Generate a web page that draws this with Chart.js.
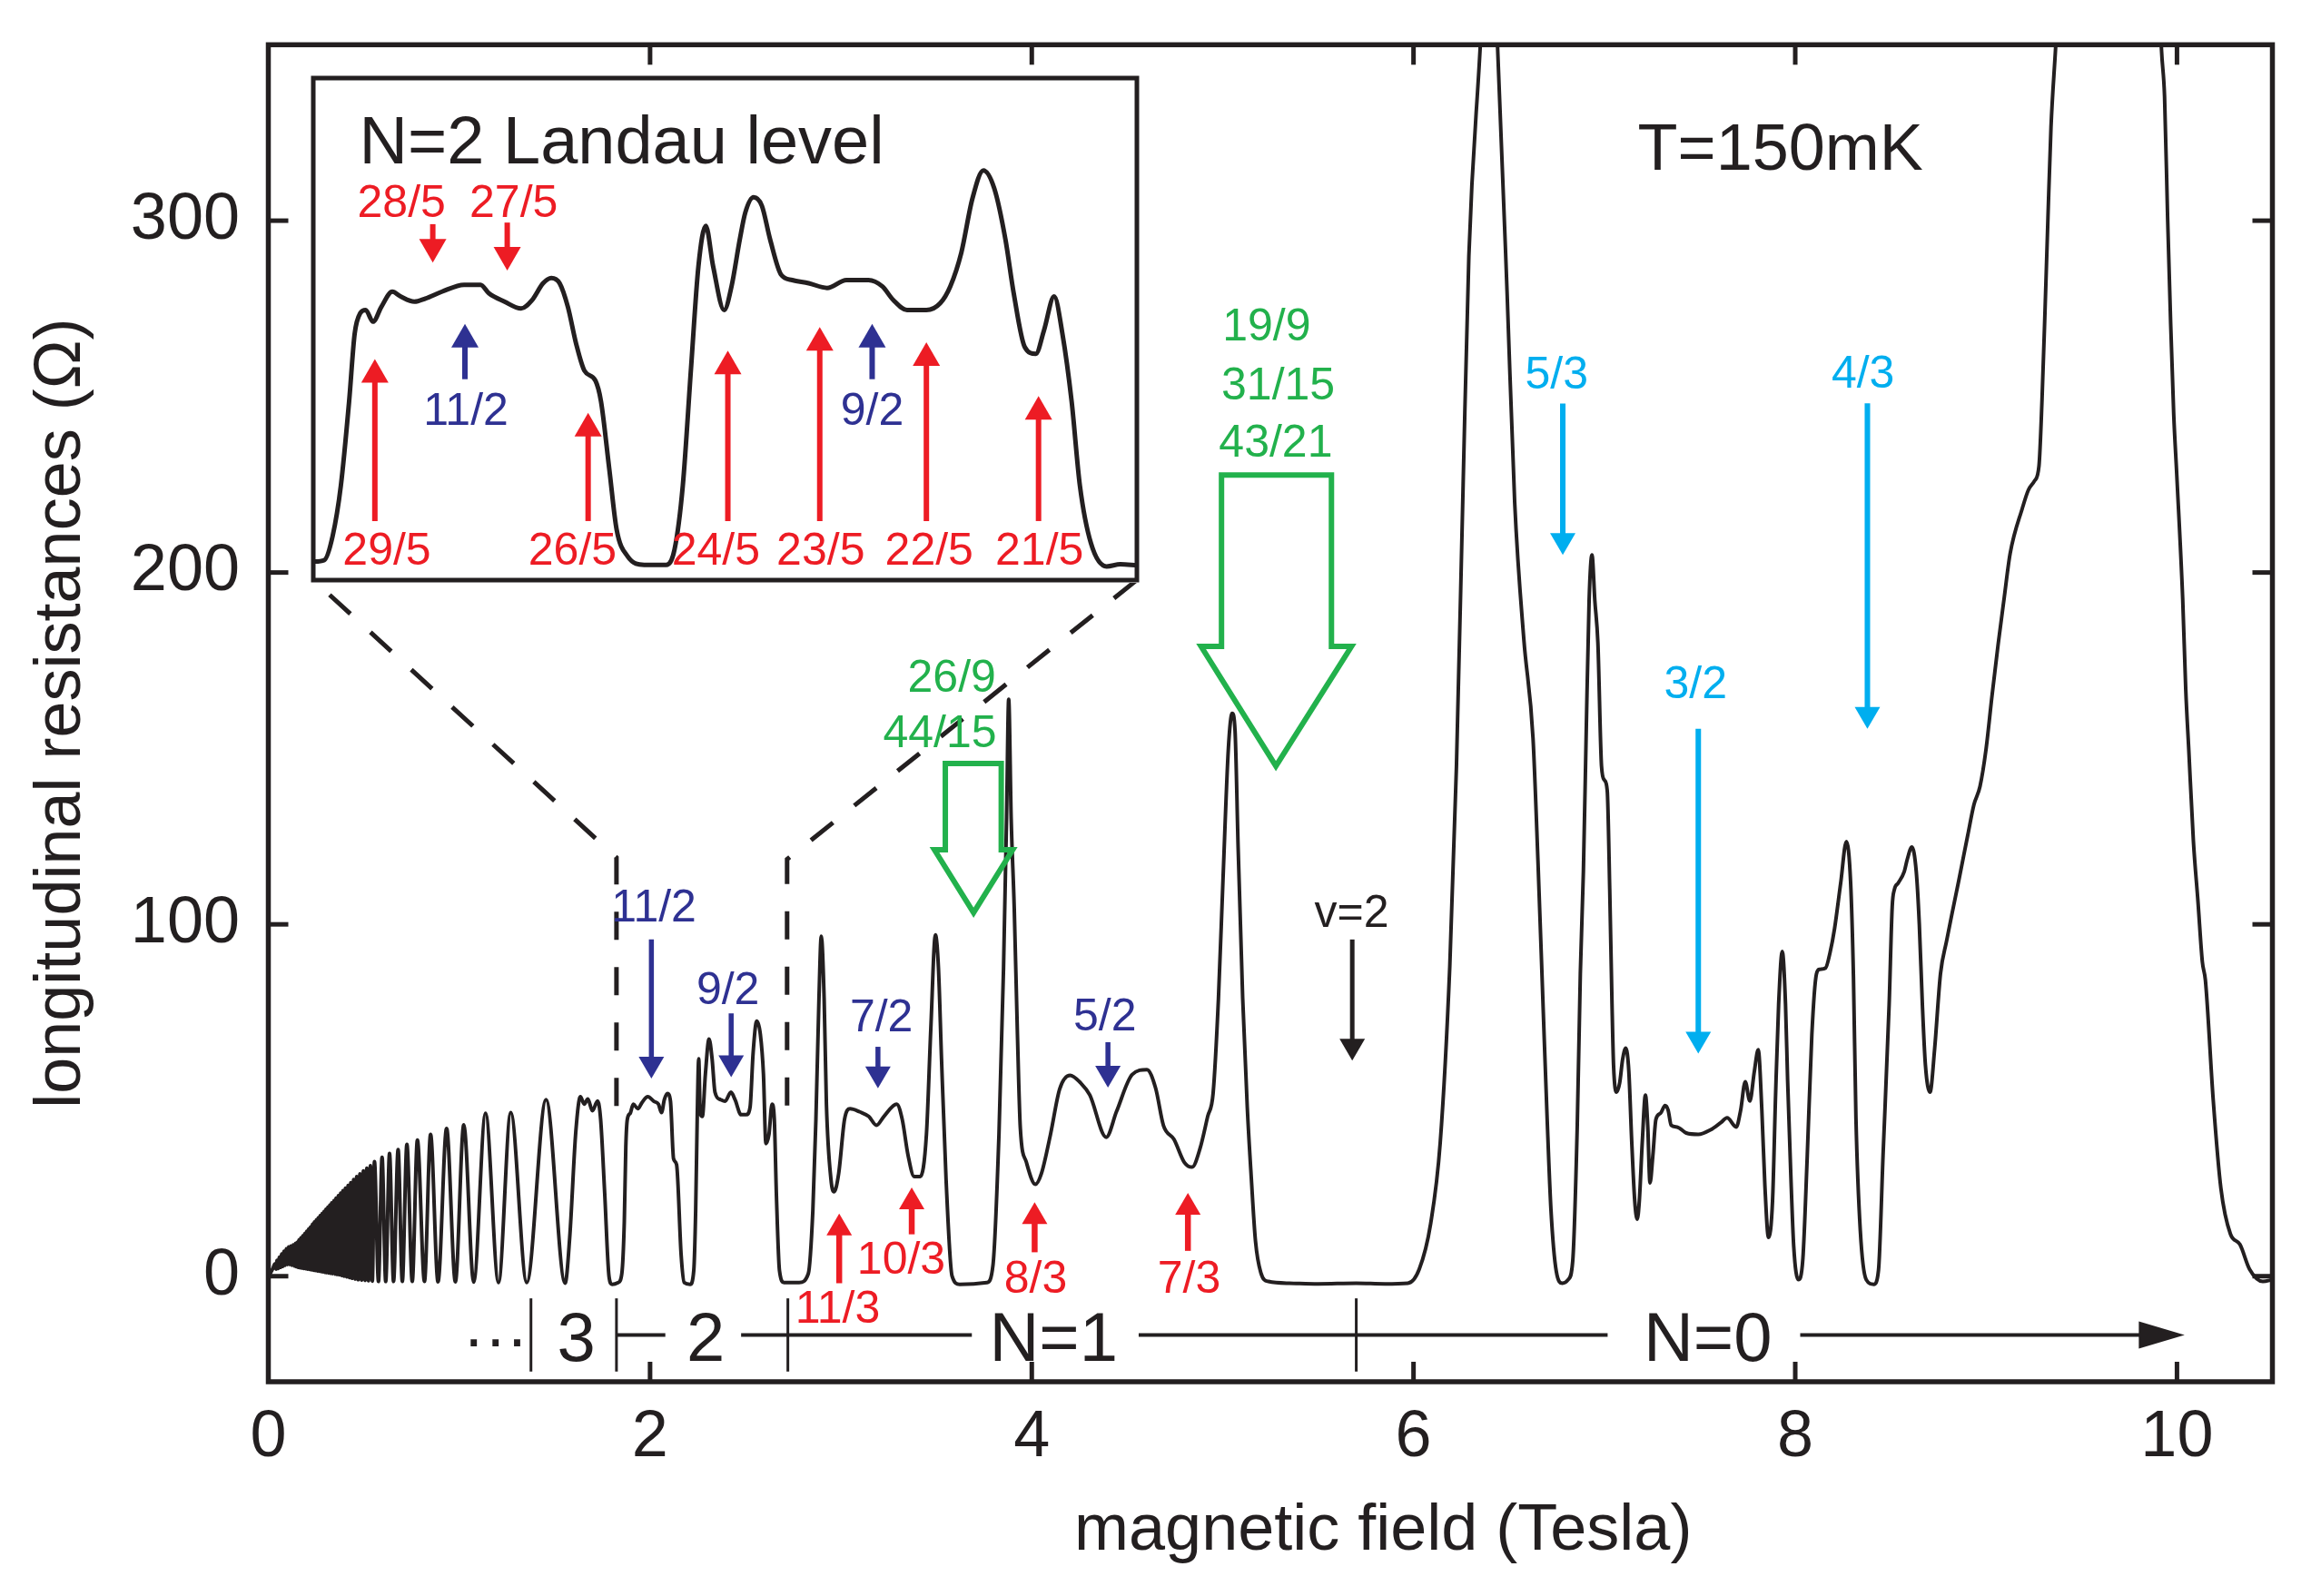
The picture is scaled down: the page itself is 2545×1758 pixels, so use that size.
<!DOCTYPE html>
<html>
<head>
<meta charset="utf-8">
<title>Longitudinal resistance vs magnetic field</title>
<script src="https://cdn.jsdelivr.net/npm/chart.js@4.4.1/dist/chart.umd.min.js"></script>
<style>
  html, body { margin: 0; padding: 0; background: #fff; }
  #wrap { position: relative; width: 2545px; height: 1758px; }
  #main { position: absolute; left: 0; top: 0; }
  #inset { position: absolute; left: 342px; top: 83px; }
</style>
</head>
<body>
<div id="wrap">
  <canvas id="main" width="2545" height="1758"></canvas>
  <canvas id="inset" width="913" height="559"></canvas>
</div>
<script>
// magnetic field (T) and longitudinal resistance (Ω)
const fieldT = [
  0.000, 0.012, 0.024, 0.034, 0.040, 0.046, 0.052, 0.058, 0.064, 0.070,
  0.076, 0.082, 0.088, 0.094, 0.100, 0.106, 0.112, 0.118, 0.124, 0.130,
  0.136, 0.141, 0.146, 0.151, 0.156, 0.161, 0.166, 0.171, 0.176, 0.181,
  0.186, 0.191, 0.196, 0.201, 0.206, 0.211, 0.216, 0.221, 0.226, 0.231,
  0.236, 0.241, 0.246, 0.251, 0.256, 0.261, 0.266, 0.271, 0.276, 0.281,
  0.286, 0.291, 0.296, 0.301, 0.306, 0.311, 0.316, 0.321, 0.326, 0.331,
  0.337, 0.343, 0.349, 0.355, 0.361, 0.367, 0.373, 0.379, 0.385, 0.391,
  0.397, 0.404, 0.411, 0.418, 0.425, 0.432, 0.439, 0.447, 0.455, 0.463,
  0.471, 0.480, 0.489, 0.498, 0.507, 0.516, 0.525, 0.535, 0.545, 0.556,
  0.577, 0.596, 0.615, 0.635, 0.656, 0.680, 0.702, 0.726, 0.754, 0.781,
  0.818, 0.850, 0.889, 0.934, 0.980, 1.024, 1.076, 1.138, 1.206, 1.270,
  1.354, 1.455, 1.555, 1.579, 1.611, 1.635, 1.655, 1.674, 1.698, 1.725,
  1.741, 1.762, 1.785, 1.801, 1.833, 1.852, 1.865, 1.873, 1.881, 1.896,
  1.912, 1.936, 1.957, 1.988, 2.020, 2.044, 2.060, 2.075, 2.091, 2.107,
  2.123, 2.139, 2.163, 2.179, 2.210, 2.229, 2.239, 2.247, 2.255, 2.263,
  2.274, 2.290, 2.309, 2.325, 2.340, 2.369, 2.393, 2.424, 2.445, 2.477,
  2.504, 2.524, 2.540, 2.559, 2.578, 2.594, 2.607, 2.623, 2.639, 2.651,
  2.662, 2.678, 2.702, 2.781, 2.829, 2.853, 2.869, 2.885, 2.897, 2.912,
  2.924, 2.948, 2.964, 2.988, 3.019, 3.048, 3.099, 3.146, 3.186, 3.225,
  3.292, 3.321, 3.352, 3.384, 3.416, 3.448, 3.471, 3.495, 3.511, 3.527,
  3.551, 3.582, 3.622, 3.765, 3.797, 3.828, 3.852, 3.868, 3.879, 3.892,
  3.908, 3.924, 3.940, 3.971, 4.019, 4.050, 4.098, 4.146, 4.201, 4.256,
  4.304, 4.390, 4.444, 4.526, 4.603, 4.649, 4.690, 4.745, 4.800, 4.840,
  4.881, 4.922, 4.950, 4.978, 5.002, 5.030, 5.050, 5.065, 5.081, 5.105,
  5.129, 5.150, 5.172, 5.200, 5.240, 5.350, 5.500, 5.700, 5.850, 5.970,
  6.030, 6.090, 6.140, 6.190, 6.225, 6.260, 6.290, 6.350, 6.395, 6.440,
  6.490, 6.530, 6.578, 6.626, 6.652, 6.680, 6.700, 6.720, 6.748, 6.780,
  6.810, 6.834, 6.858, 6.874, 6.890, 6.905, 6.920, 6.935, 6.950, 6.966,
  6.985, 7.000, 7.015, 7.028, 7.040, 7.048, 7.064, 7.080, 7.096, 7.112,
  7.128, 7.143, 7.159, 7.172, 7.183, 7.199, 7.215, 7.227, 7.239, 7.254,
  7.270, 7.294, 7.318, 7.334, 7.350, 7.381, 7.429, 7.492, 7.556, 7.611,
  7.643, 7.691, 7.714, 7.738, 7.762, 7.786, 7.806, 7.825, 7.841, 7.860,
  7.881, 7.897, 7.913, 7.932, 7.949, 7.960, 7.976, 7.992, 8.016, 8.040,
  8.063, 8.087, 8.111, 8.127, 8.159, 8.182, 8.206, 8.238, 8.268, 8.290,
  8.305, 8.318, 8.341, 8.372, 8.412, 8.436, 8.460, 8.492, 8.508, 8.520,
  8.539, 8.571, 8.587, 8.611, 8.634, 8.650, 8.666, 8.682, 8.706, 8.730,
  8.761, 8.793, 8.825, 8.857, 8.904, 8.936, 8.968, 8.999, 9.031, 9.063,
  9.094, 9.126, 9.190, 9.221, 9.253, 9.277, 9.293, 9.309, 9.324, 9.340,
  9.364, 9.400, 9.640, 9.890, 9.919, 9.935, 9.951, 9.967, 9.983, 9.999,
  10.030, 10.046, 10.062, 10.086, 10.110, 10.133, 10.149, 10.190, 10.230, 10.280,
  10.330, 10.380, 10.450, 10.500
];
const rxxOhm = [
  0.0, 1.0, 2.2, 3.5, 2.0, 4.5, 2.2, 5.4, 2.5, 6.3,
  2.8, 7.1, 3.1, 7.8, 3.3, 8.3, 3.3, 8.6, 3.1, 8.9,
  2.9, 9.3, 2.7, 9.6, 2.5, 10.3, 2.4, 10.9, 2.3, 11.5,
  2.2, 12.1, 2.1, 12.8, 2.0, 13.4, 1.9, 14.0, 1.8, 14.8,
  1.7, 15.4, 1.6, 16.0, 1.5, 16.6, 1.4, 17.2, 1.3, 17.8,
  1.2, 18.4, 1.1, 19.0, 1.0, 19.6, 0.9, 20.2, 0.8, 20.8,
  0.7, 21.5, 0.6, 22.2, 0.5, 22.9, 0.4, 23.6, 0.2, 24.3,
  0.0, 25.0, -0.2, 25.8, -0.4, 26.6, -0.6, 27.5, -0.8, 28.3,
  -1.0, 29.1, -1.1, 29.9, -1.2, 30.7, -1.3, 31.4, -1.4, 32.6,
  -1.5, 33.8, -1.5, 34.9, -1.5, 36.0, -1.5, 37.5, -1.5, 38.7,
  -1.5, 40.3, -1.6, 42.0, -1.6, 43.0, -1.7, 46.3, -1.8, 46.5,
  -1.8, 50.2, -2.0, 11.0, 41.1, 51.0, 48.9, 50.4, 47.0, 49.8,
  44.6, 23.9, -0.1, -2.3, -1.8, 0.7, 15.4, 36.8, 44.6, 46.3,
  48.9, 47.6, 49.3, 51.0, 49.7, 48.9, 46.5, 50.2, 51.9, 49.7,
  33.4, 31.7, 5.9, -1.8, -2.3, 1.6, 18.8, 44.6, 61.8, 46.3,
  45.4, 57.5, 67.4, 61.8, 52.3, 50.2, 49.7, 52.3, 50.2, 45.9,
  45.9, 48.0, 63.5, 72.5, 68.7, 57.5, 37.7, 40.3, 48.9, 44.6,
  23.1, 1.6, -1.8, -1.8, 0.7, 18.8, 44.6, 79.0, 96.6, 79.0,
  48.9, 27.4, 24.0, 29.1, 44.6, 47.6, 46.7, 45.4, 42.9, 45.4,
  48.9, 44.6, 34.3, 28.3, 28.3, 40.3, 70.4, 97.0, 87.6, 61.8,
  27.4, 0.1, -2.3, -1.8, 3.3, 40.3, 87.6, 130.6, 164.0, 130.0,
  104.8, 70.4, 42.0, 32.5, 26.1, 29.1, 40.3, 53.2, 57.1, 54.9,
  51.5, 39.5, 46.8, 57.3, 58.7, 53.4, 42.8, 38.9, 32.3, 31.0,
  36.2, 45.5, 52.0, 79.0, 113.0, 150.0, 160.0, 155.0, 122.0, 79.0,
  48.0, 28.0, 10.0, 1.0, -1.5, -2.0, -2.2, -2.0, -2.2, -2.0,
  2.0, 15.0, 38.0, 88.0, 145.0, 225.0, 290.0, 350.0, 400.0, 350.0,
  280.0, 220.0, 181.0, 153.0, 118.0, 75.0, 45.0, 19.0, 1.4, -2.0,
  -1.0, 4.2, 42.9, 86.0, 115.0, 155.0, 192.0, 205.0, 192.0, 180.0,
  145.0, 141.0, 138.0, 110.0, 77.3, 60.0, 52.3, 54.9, 61.8, 64.8,
  58.3, 38.6, 21.4, 16.2, 21.4, 38.6, 51.5, 42.9, 26.5, 34.3,
  44.6, 46.3, 48.5, 47.2, 42.9, 42.4, 40.7, 40.3, 41.6, 43.7,
  45.0, 42.4, 47.2, 55.3, 49.8, 58.3, 64.4, 47.2, 25.7, 11.0,
  21.4, 51.5, 77.3, 92.3, 77.3, 55.8, 30.0, 8.5, -1.0, 5.0,
  34.3, 68.7, 85.9, 87.2, 87.6, 91.9, 98.8, 111.7, 123.5, 112.0,
  85.0, 45.0, 12.8, -1.0, -2.3, 1.6, 34.3, 77.3, 105.0, 110.0,
  111.7, 115.0, 118.5, 122.0, 115.0, 100.0, 77.3, 60.0, 52.3, 64.4,
  86.0, 95.3, 104.0, 112.5, 125.4, 134.0, 139.2, 149.5, 165.0, 179.6,
  192.5, 205.4, 218.3, 223.4, 226.0, 230.3, 249.2, 275.0, 300.8, 326.6,
  349.0, 385.0, 500.0, 390.0, 348.5, 335.2, 300.8, 270.7, 244.9, 227.7,
  192.5, 166.7, 149.5, 123.7, 106.5, 89.3, 84.1, 50.0, 25.0, 12.0,
  9.0, 2.0, -1.5, -1.0
];

// inset: the N=2 Landau level blown up
const insetFieldT = [
  1.822, 1.834, 1.843, 1.852, 1.861, 1.867, 1.873, 1.879, 1.887, 1.896,
  1.908, 1.917, 1.932, 1.944, 1.962, 1.986, 2.004, 2.013, 2.030, 2.048,
  2.060, 2.072, 2.081, 2.090, 2.099, 2.108, 2.117, 2.129, 2.135, 2.144,
  2.152, 2.164, 2.182, 2.206, 2.215, 2.224, 2.233, 2.241, 2.249, 2.257,
  2.269, 2.277, 2.286, 2.292, 2.301, 2.310, 2.319, 2.331, 2.343, 2.361,
  2.381, 2.402, 2.426, 2.441, 2.453, 2.468, 2.489, 2.504, 2.515, 2.527,
  2.539, 2.551, 2.563, 2.575, 2.584, 2.596, 2.608, 2.617, 2.628, 2.637,
  2.647, 2.656, 2.668, 2.685, 2.700, 2.718
];
const insetRxxOhm = [
  -2.1, -1.8, 2.7, 12.3, 28.3, 41.1, 45.0, 45.6, 43.4, 46.2,
  49.1, 48.2, 47.2, 47.8, 49.1, 50.4, 50.4, 48.8, 47.2, 45.9,
  47.5, 50.7, 51.7, 50.7, 46.2, 39.2, 34.1, 32.2, 28.3, 15.5,
  4.0, -1.1, -2.7, -2.7, 0.2, 12.3, 34.7, 53.9, 61.6, 53.9,
  45.6, 50.1, 59.0, 64.1, 67.0, 65.4, 59.0, 52.3, 51.3, 50.7,
  49.8, 51.3, 51.3, 50.1, 47.5, 45.6, 45.6, 46.9, 50.1, 56.5,
  66.7, 72.1, 68.6, 59.0, 48.8, 38.6, 37.3, 41.8, 48.2, 41.1,
  28.3, 12.3, 1.4, -3.0, -2.6, -2.8
];

const xTicks = [0, 2, 4, 6, 8, 10];
const yTicks = [0, 100, 200, 300];

const INK = '#231f20', RED = '#ed1c24', BLUE = '#2e3192', GREEN = '#22b14c', CYAN = '#00aeef';
const FONT = "'Liberation Sans', Arial, sans-serif";

// arrows of the main panel: tail/tip in Ω, label centre and baseline
const mainMarks = [
  { t: '11/2', c: BLUE, b: 2.007, from: 95.7, to: 56.2, lb: 2.02, lr: 100.9 },
  { t: '9/2', c: BLUE, b: 2.425, from: 74.7, to: 56.6, lb: 2.408, lr: 77.3 },
  { t: '7/2', c: BLUE, b: 3.194, from: 65.2, to: 53.4, lb: 3.212, lr: 69.7 },
  { t: '5/2', c: BLUE, b: 4.399, from: 66.5, to: 53.6, lb: 4.383, lr: 69.9 },
  { t: '11/3', c: RED, b: 2.991, from: -2, to: 17.8, lb: 2.983, lr: -13.2 },
  { t: '10/3', c: RED, b: 3.371, from: 11.9, to: 25.2, lb: 3.316, lr: 0.7 },
  { t: '8/3', c: RED, b: 4.015, from: 6.8, to: 21.0, lb: 4.02, lr: -4.6 },
  { t: '7/3', c: RED, b: 4.818, from: 7.2, to: 23.7, lb: 4.824, lr: -4.6 },
  { t: 'v=2', c: INK, b: 5.679, from: 95.7, to: 61.3, lb: 5.676, lr: 99.2 },
  { t: '5/3', c: CYAN, b: 6.782, from: 248, to: 205, lb: 6.75, lr: 252.3 },
  { t: '3/2', c: CYAN, b: 7.492, from: 155.6, to: 63.3, lb: 7.478, lr: 164.2 },
  { t: '4/3', c: CYAN, b: 8.378, from: 248.1, to: 155.6, lb: 8.355, lr: 252.5 }
];
const shaftWidth = { [BLUE]: 5.5, [RED]: 6.5, [CYAN]: 6, [INK]: 5 };

// open green arrows
const openArrows = [
  { bodyL: 3.547, bodyR: 3.840, top: 145.7, headL: 3.490, headR: 3.900, base: 121.2, tipB: 3.695, tipR: 103.3,
    labels: [['26/9', 3.581, 166.1], ['44/15', 3.518, 150.3]] },
  { bodyL: 4.994, bodyR: 5.570, top: 227.7, headL: 4.887, headR: 5.675, base: 179.0, tipB: 5.279, tipR: 145.0,
    labels: [['19/9', 5.230, 266.0], ['31/15', 5.291, 249.1], ['43/21', 5.278, 232.9]] }
];

// dashed guides from the inset down to the N=2 level
const zoomGuides = [
  [[1.824, 48.4], [1.824, 119.0], [0.2355, 197.9]],
  [[2.718, 48.5], [2.718, 118.5], [4.551, 197.9]]
];

// Landau level index bar along the bottom
const levelBars = [1.376, 1.824, 2.722, 5.70];
const levelLines = [[1.824, 2.08], [2.477, 3.686], [4.56, 7.017], [8.026, 9.81]];
const levelText = [['3', 1.614], ['2', 2.291], ['N=1', 4.114], ['N=0', 7.542]];

const insetMarks = [
  { t: '29/5', c: RED, b: 1.889, from: 5.6, to: 36.3, lb: 1.902, lr: -2.7 },
  { t: '28/5', c: RED, b: 1.952, from: 61.9, to: 54.6, lb: 1.918, lr: 63.2 },
  { t: '27/5', c: RED, b: 2.033, from: 62.2, to: 53.1, lb: 2.040, lr: 63.2 },
  { t: '11/2', c: BLUE, b: 1.987, from: 32.5, to: 43.0, lb: 1.988, lr: 23.8 },
  { t: '26/5', c: RED, b: 2.121, from: 5.6, to: 26.1, lb: 2.104, lr: -2.7 },
  { t: '24/5', c: RED, b: 2.273, from: 5.6, to: 37.9, lb: 2.260, lr: -2.7 },
  { t: '23/5', c: RED, b: 2.373, from: 5.6, to: 42.4, lb: 2.374, lr: -2.7 },
  { t: '9/2', c: BLUE, b: 2.430, from: 32.5, to: 43.0, lb: 2.430, lr: 23.8 },
  { t: '22/5', c: RED, b: 2.489, from: 5.6, to: 39.5, lb: 2.492, lr: -2.7 },
  { t: '21/5', c: RED, b: 2.611, from: 5.6, to: 29.3, lb: 2.612, lr: -2.7 }
];

function drawArrow(ctx, x, y0, y1, color, shaft, headW, headL) {
  const dir = y1 > y0 ? 1 : -1;
  ctx.strokeStyle = color;
  ctx.fillStyle = color;
  ctx.lineWidth = shaft;
  ctx.lineCap = 'butt';
  ctx.beginPath();
  ctx.moveTo(x, y0);
  ctx.lineTo(x, y1 - dir * headL * 0.9);
  ctx.stroke();
  ctx.beginPath();
  ctx.moveTo(x, y1);
  ctx.lineTo(x - headW / 2, y1 - dir * headL);
  ctx.lineTo(x + headW / 2, y1 - dir * headL);
  ctx.closePath();
  ctx.fill();
}

function drawText(ctx, text, x, y, color, size, align) {
  ctx.fillStyle = color;
  ctx.font = size + 'px ' + FONT;
  ctx.textAlign = align || 'center';
  ctx.textBaseline = 'alphabetic';
  ctx.fillText(text, x, y);
}

function line(ctx, x0, y0, x1, y1) {
  ctx.beginPath();
  ctx.moveTo(x0, y0);
  ctx.lineTo(x1, y1);
  ctx.stroke();
}

const decor = {
  id: 'decor',
  afterDatasetsDraw(chart) {
    const { ctx, chartArea: a, scales: { x, y } } = chart;
    const px = v => x.getPixelForValue(v);
    const py = v => y.getPixelForValue(v);
    ctx.save();

    // frame and inward ticks
    ctx.strokeStyle = INK;
    ctx.lineJoin = 'miter';
    ctx.lineWidth = 5.5;
    ctx.strokeRect(a.left, a.top, a.right - a.left, a.bottom - a.top);
    ctx.lineWidth = 5;
    xTicks.forEach(v => {
      const p = px(v);
      line(ctx, p, a.bottom, p, a.bottom - 22);
      line(ctx, p, a.top, p, a.top + 22);
    });
    yTicks.forEach(v => {
      const p = py(v);
      line(ctx, a.left, p, a.left + 22, p);
      line(ctx, a.right, p, a.right - 22, p);
    });

    // dashed guides
    ctx.setLineDash([31, 30]);
    ctx.lineWidth = 5;
    zoomGuides.forEach(g => {
      ctx.beginPath();
      g.forEach(([b, r], i) => i ? ctx.lineTo(px(b), py(r)) : ctx.moveTo(px(b), py(r)));
      ctx.stroke();
    });
    ctx.setLineDash([]);

    // filling factor arrows
    mainMarks.forEach(m => {
      drawArrow(ctx, px(m.b), py(m.from), py(m.to), m.c, shaftWidth[m.c], 28, 24);
      drawText(ctx, m.t, px(m.lb), py(m.lr), m.c, 50);
    });

    // open green arrows
    ctx.strokeStyle = GREEN;
    ctx.lineWidth = 6;
    openArrows.forEach(g => {
      ctx.beginPath();
      ctx.moveTo(px(g.bodyL), py(g.top));
      ctx.lineTo(px(g.bodyR), py(g.top));
      ctx.lineTo(px(g.bodyR), py(g.base));
      ctx.lineTo(px(g.headR), py(g.base));
      ctx.lineTo(px(g.tipB), py(g.tipR));
      ctx.lineTo(px(g.headL), py(g.base));
      ctx.lineTo(px(g.bodyL), py(g.base));
      ctx.closePath();
      ctx.stroke();
      g.labels.forEach(([t, b, r]) => drawText(ctx, t, px(b), py(r), GREEN, 50));
    });

    // Landau level bar
    ctx.strokeStyle = INK;
    ctx.lineWidth = 3;
    levelBars.forEach(b => line(ctx, px(b), py(-6.3), px(b), py(-27.1)));
    ctx.lineWidth = 4;
    levelLines.forEach(([b0, b1]) => line(ctx, px(b0), py(-16.7), px(b1), py(-16.7)));
    ctx.fillStyle = INK;
    ctx.beginPath();
    ctx.moveTo(px(10.04), py(-16.7));
    ctx.lineTo(px(9.80), py(-16.7) - 15);
    ctx.lineTo(px(9.80), py(-16.7) + 15);
    ctx.closePath();
    ctx.fill();
    levelText.forEach(([t, b]) => drawText(ctx, t, px(b), py(-24), INK, 76));
    drawText(ctx, '\u00b7\u00b7\u00b7', px(1.19), py(-24), INK, 72);

    drawText(ctx, 'T=150mK', px(7.175), py(314.5), INK, 72, 'left');
    drawText(ctx, 'magnetic field (Tesla)', px(5.841), py(-77.8), INK, 72);
    ctx.restore();
  }
};

new Chart(document.getElementById('main'), {
  type: 'line',
  data: {
    datasets: [{
      data: fieldT.map((b, i) => ({ x: b, y: rxxOhm[i] })),
      borderColor: INK,
      borderWidth: 4,
      pointRadius: 0,
      cubicInterpolationMode: 'monotone',
      fill: false
    }]
  },
  options: {
    responsive: false,
    animation: false,
    devicePixelRatio: 1,
    layout: { padding: { left: 0, top: 49.3, right: 42.5, bottom: 0 } },
    plugins: { legend: { display: false }, tooltip: { enabled: false } },
    scales: {
      x: {
        type: 'linear', min: 0, max: 10.5,
        grid: { display: false, drawTicks: false },
        border: { display: false },
        afterBuildTicks: s => { s.ticks = xTicks.map(v => ({ value: v })); },
        afterFit: s => { s.height = 236; s.paddingLeft = 0; s.paddingRight = 0; },
        ticks: { font: { family: FONT, size: 72 }, color: INK, padding: 19, maxRotation: 0, autoSkip: false }
      },
      y: {
        type: 'linear', min: -30, max: 350,
        grid: { display: false, drawTicks: false },
        border: { display: false },
        afterBuildTicks: s => { s.ticks = yTicks.map(v => ({ value: v })); },
        afterFit: s => { s.width = 295.5; s.paddingTop = 0; s.paddingBottom = 0; },
        ticks: { font: { family: FONT, size: 72 }, color: INK, padding: 31.5, autoSkip: false },
        title: {
          display: true, text: 'longitudinal resistances (\u03a9)',
          font: { family: FONT, size: 72 }, color: INK, padding: { top: 25, bottom: 0 }
        }
      }
    }
  },
  plugins: [decor]
});

const insetDecor = {
  id: 'insetDecor',
  beforeDraw(chart) {
    const { ctx, width, height } = chart;
    ctx.save();
    ctx.fillStyle = '#fff';
    ctx.fillRect(0, 0, width, height);
    ctx.restore();
  },
  afterDatasetsDraw(chart) {
    const { ctx, chartArea: a, scales: { x, y } } = chart;
    const px = v => x.getPixelForValue(v);
    const py = v => y.getPixelForValue(v);
    ctx.save();
    ctx.strokeStyle = INK;
    ctx.lineWidth = 5;
    ctx.strokeRect(a.left, a.top, a.right - a.left, a.bottom - a.top);
    drawText(ctx, 'N=2 Landau level', px(1.872), py(73.4), INK, 74, 'left');
    insetMarks.forEach(m => {
      drawArrow(ctx, px(m.b), py(m.from), py(m.to), m.c, 6, 30, 26);
      drawText(ctx, m.t, px(m.lb), py(m.lr), m.c, 50);
    });
    ctx.restore();
  }
};

new Chart(document.getElementById('inset'), {
  type: 'line',
  data: {
    datasets: [{
      data: insetFieldT.map((b, i) => ({ x: b, y: insetRxxOhm[i] })),
      borderColor: INK,
      borderWidth: 5,
      pointRadius: 0,
      cubicInterpolationMode: 'monotone',
      fill: false
    }]
  },
  options: {
    responsive: false,
    animation: false,
    devicePixelRatio: 1,
    layout: { padding: 3 },
    plugins: { legend: { display: false }, tooltip: { enabled: false } },
    scales: {
      x: { type: 'linear', display: false, min: 1.822, max: 2.718 },
      y: { type: 'linear', display: false, min: -5.6, max: 89.6 }
    }
  },
  plugins: [insetDecor]
});
</script>
</body>
</html>
